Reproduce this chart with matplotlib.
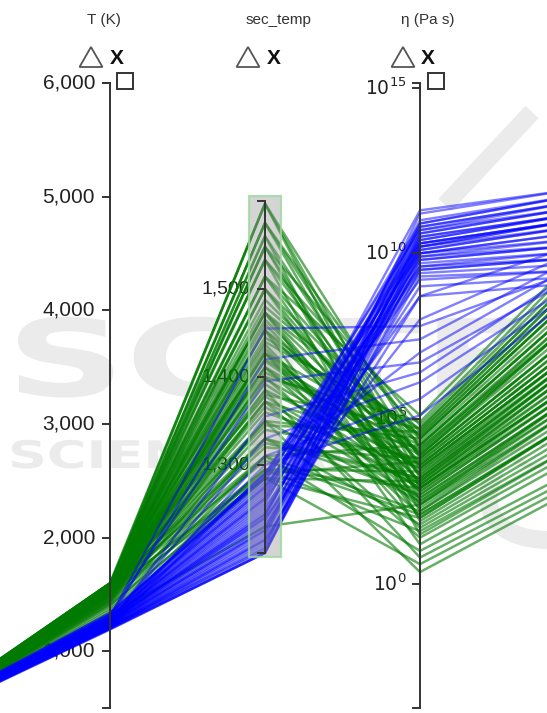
import matplotlib
matplotlib.use("Agg")
import numpy as np
import matplotlib.pyplot as plt
from matplotlib.patches import Rectangle, Polygon, PathPatch
from matplotlib.textpath import TextPath
from matplotlib.font_manager import FontProperties
from matplotlib.transforms import Affine2D

plt.rcParams['mathtext.fontset'] = 'custom'
plt.rcParams['mathtext.rm'] = 'Liberation Sans'
plt.rcParams['mathtext.it'] = 'Liberation Sans:italic'
plt.rcParams['mathtext.bf'] = 'Liberation Sans:bold'

# ---------------------------------------------------------------- data
# visible dimensions
dim_titles = ["T (K)", "sec_temp", "η (Pa s)"]
T_ticks = [1000, 2000, 3000, 4000, 5000, 6000]
sec_ticks = [1300, 1400, 1500]
eta_tick_exps = [0, 5, 10, 15]

# group 1 (green)
green_left = [0.028, 0.026, 0.027, 0.025, 0.024, 0.026, 0.027, 0.023, 0.029, 0.025,
              0.022, 0.027, 0.024, 0.021, 0.026, 0.023, 0.022, 0.028, 0.025, 0.021,
              0.029, 0.026, 0.023, 0.020, 0.027, 0.024, 0.020, 0.028, 0.026, 0.023,
              0.019, 0.019, 0.027, 0.022, 0.019, 0.025, 0.018, 0.026, 0.018, 0.024,
              0.021, 0.017, 0.023, 0.028, 0.020, 0.017, 0.025, 0.020, 0.016, 0.022,
              0.026, 0.019, 0.016, 0.021, 0.018, 0.015, 0.020, 0.017, 0.015, 0.015,
              0.026, 0.025, 0.024, 0.022, 0.021, 0.029, 0.026, 0.025, 0.023, 0.022,
              0.027, 0.025, 0.024, 0.023, 0.020, 0.028, 0.027, 0.025, 0.024, 0.022]
green_T = [1600, 1590, 1575, 1585, 1570, 1560, 1580, 1555, 1595, 1565,
           1545, 1588, 1550, 1530, 1578, 1540, 1520, 1592, 1558, 1510,
           1598, 1572, 1535, 1500, 1583, 1548, 1490, 1593, 1568, 1538,
           1480, 1460, 1587, 1525, 1470, 1562, 1450, 1577, 1440, 1553,
           1515, 1430, 1542, 1596, 1505, 1420, 1563, 1485, 1400, 1528,
           1573, 1465, 1380, 1518, 1445, 1360, 1495, 1410, 1340, 1320,
           1582, 1567, 1552, 1537, 1522, 1597, 1576, 1561, 1546, 1531,
           1589, 1571, 1556, 1541, 1512, 1594, 1579, 1564, 1549, 1534]
green_sec = [1597, 1597, 1597, 1575, 1575, 1575, 1560, 1560, 1548, 1548,
             1548, 1533, 1533, 1533, 1514, 1514, 1514, 1500, 1500, 1500,
             1473, 1473, 1473, 1473, 1453, 1453, 1453, 1440, 1427, 1427,
             1427, 1427, 1411, 1411, 1411, 1400, 1400, 1385, 1385, 1372,
             1372, 1372, 1360, 1350, 1350, 1350, 1330, 1330, 1330, 1320,
             1310, 1310, 1310, 1295, 1295, 1295, 1285, 1285, 1285, 1230,
             1488, 1465, 1445, 1432, 1418, 1405, 1392, 1380, 1366, 1340,
             1480, 1460, 1437, 1420, 1398, 1378, 1345, 1325, 1305, 1290]
green_eta_exp = [3.2, 4.1, 2.5, 3.8, 2.9, 4.4, 3.5, 1.9, 4.8, 3.0,
                 2.2, 3.6, 4.6, 1.5, 2.7, 3.9, 5.1, 4.2, 2.4, 3.3,
                 3.7, 4.5, 2.0, 2.8, 4.0, 3.1, 1.2, 4.7, 3.4, 2.6,
                 4.3, 1.7, 3.9, 2.3, 3.0, 4.9, 2.1, 3.6, 0.8, 4.1,
                 2.9, 1.4, 3.5, 4.4, 2.5, 0.36, 3.2, 1.8, 2.7, 3.8,
                 4.2, 1.0, 2.2, 3.4, 1.6, 2.9, 0.6, 2.0, 3.1, 2.4,
                 3.9, 3.3, 4.5, 2.8, 3.6, 4.2, 3.0, 4.7, 2.6, 3.8,
                 4.4, 3.1, 2.4, 4.0, 3.5, 2.9, 4.6, 3.2, 2.1, 3.7]
green_right = [0.55, 0.62, 0.50, 0.60, 0.52, 0.66, 0.57, 0.45, 0.70, 0.53,
               0.47, 0.58, 0.68, 0.42, 0.51, 0.61, 0.72, 0.64, 0.49, 0.56,
               0.59, 0.67, 0.46, 0.52, 0.63, 0.55, 0.40, 0.69, 0.57, 0.50,
               0.65, 0.43, 0.62, 0.48, 0.54, 0.71, 0.46, 0.58, 0.37, 0.63,
               0.53, 0.41, 0.57, 0.66, 0.49, 0.35, 0.55, 0.44, 0.51, 0.60,
               0.64, 0.38, 0.48, 0.56, 0.42, 0.52, 0.36, 0.46, 0.54, 0.50,
               0.62, 0.56, 0.67, 0.51, 0.58, 0.64, 0.54, 0.69, 0.50, 0.60,
               0.66, 0.55, 0.48, 0.62, 0.57, 0.52, 0.68, 0.56, 0.46, 0.59]

# group 2 (blue)
blue_left = [0.008, 0.009, 0.008, 0.010, 0.009, 0.010, 0.011, 0.010, 0.011, 0.012,
             0.011, 0.012, 0.013, 0.012, 0.013, 0.012, 0.014, 0.013, 0.014, 0.015,
             0.014, 0.015, 0.015, 0.016, 0.015, 0.016, 0.017, 0.016, 0.017, 0.018,
             0.017, 0.018, 0.019, 0.019, 0.010, 0.013, 0.015, 0.016, 0.018, 0.020,
             0.017, 0.016, 0.018, 0.014, 0.015, 0.013, 0.017, 0.012, 0.015, 0.011]
blue_T = [1190, 1195, 1200, 1198, 1205, 1210, 1208, 1215, 1220, 1218,
          1225, 1230, 1228, 1235, 1240, 1238, 1245, 1250, 1248, 1255,
          1260, 1258, 1265, 1270, 1268, 1275, 1280, 1285, 1290, 1295,
          1300, 1310, 1320, 1330, 1212, 1242, 1262, 1278, 1305, 1338,
          1300, 1280, 1320, 1250, 1270, 1230, 1290, 1220, 1260, 1210]
blue_sec = [1200, 1200, 1200, 1203, 1207, 1210, 1213, 1216, 1219, 1222,
            1225, 1228, 1231, 1234, 1237, 1240, 1243, 1246, 1249, 1252,
            1255, 1258, 1261, 1264, 1267, 1270, 1273, 1276, 1279, 1282,
            1285, 1288, 1290, 1290, 1205, 1226, 1244, 1262, 1275, 1287,
            1455, 1420, 1395, 1355, 1330, 1310, 1300, 1292, 1240, 1215]
blue_eta_exp = [10.2, 9.8, 10.6, 9.5, 10.9, 10.0, 9.3, 10.4, 11.2, 9.7,
                10.1, 10.7, 9.0, 10.3, 9.9, 11.0, 10.5, 9.6, 10.2, 8.7,
                10.8, 10.0, 9.4, 10.6, 11.3, 9.8, 10.3, 9.2, 10.9, 10.1,
                9.6, 10.4, 10.0, 10.7, 10.5, 9.9, 10.2, 10.8, 9.5, 10.3,
                7.8, 7.4, 6.7, 6.4, 6.1, 5.6, 5.1, 7.0, 8.0, 8.7]
blue_right = [0.78, 0.74, 0.80, 0.72, 0.82, 0.76, 0.70, 0.79, 0.83, 0.73,
              0.77, 0.81, 0.69, 0.78, 0.75, 0.82, 0.79, 0.73, 0.77, 0.68,
              0.81, 0.76, 0.71, 0.80, 0.83, 0.74, 0.78, 0.70, 0.82, 0.77,
              0.72, 0.79, 0.75, 0.80, 0.79, 0.74, 0.78, 0.81, 0.72, 0.78,
              0.70, 0.72, 0.69, 0.70, 0.68, 0.67, 0.66, 0.71, 0.73, 0.74]

# ---------------------------------------------------------------- layout
W, H = 547, 713
AXIS_X = [-45, 110, 265, 420, 575]          # pixel x of each dimension
TOP, BOT = 83, 708                          # full-height axis extent
SEC_TOP, SEC_BOT = 201, 553                 # brushed axis extent

def lin(lo, hi, p_lo, p_hi):
    return lambda v: p_lo + (np.asarray(v, float) - lo) / (hi - lo) * (p_hi - p_lo)

scale_left = lin(0.0, 1.0, BOT, TOP)
scale_T = lin(500, 6000, BOT, TOP)
scale_sec = lin(1200, 1600, SEC_BOT, SEC_TOP)
scale_eta = lin(-3.75, 15.15, BOT, TOP)     # log10 scale
scale_right = lin(0.0, 1.0, BOT, TOP)

INK = "#333333"
TXT = "#222222"

fig = plt.figure(figsize=(W / 100, H / 100), dpi=100)
ax = fig.add_axes([0, 0, 1, 1])
ax.set_xlim(0, W)
ax.set_ylim(H, 0)
ax.axis("off")

# ---------------------------------------------------------------- watermark
wm = "#ebebeb"
fp_wm = FontProperties(family="DejaVu Sans", weight="bold")
tp = TextPath((0, 0), "SCITEPRESS", size=107, prop=fp_wm)
ax.add_patch(PathPatch(tp, transform=Affine2D().scale(1.55, -1.0).translate(6, 396) + ax.transData,
                       fc=wm, ec="none", zorder=0))
tp2 = TextPath((0, 0), "SCIENCE AND TECHNOLOGY", size=38, prop=fp_wm)
ax.add_patch(PathPatch(tp2, transform=Affine2D().scale(1.42, -1.0).translate(8, 468) + ax.transData,
                       fc=wm, ec="none", zorder=0))
ax.plot([445, 532], [205, 112], color=wm, lw=13, solid_capstyle="butt", zorder=0)
tt = np.linspace(0, 1, 40)
ax.plot(495 - 30 * np.sin(tt * np.pi / 2) + 80 * tt ** 2, 470 + 60 * np.sin(tt * np.pi / 2) + 10 * tt,
        color=wm, lw=13, zorder=0)

# ---------------------------------------------------------------- tick labels (under the lines)
fs_tick = 15
for v in T_ticks:
    y = float(scale_T(v))
    ax.text(AXIS_X[1] - 15, y, f"{v:,}", ha="right", va="center", fontsize=fs_tick,
            family="Liberation Sans", color=TXT, zorder=1)
for v in sec_ticks:
    y = float(scale_sec(v))
    ax.text(AXIS_X[2] - 15, y, f"{v:,}", ha="right", va="center", fontsize=14,
            family="Liberation Sans", color=TXT, zorder=1)
for e in eta_tick_exps:
    y = float(scale_eta(e))
    ax.text(AXIS_X[3] - 13, y, rf"$\mathregular{{10^{{{e}}}}}$", ha="right", va="center",
            fontsize=13.5, color=TXT, zorder=1)

# ---------------------------------------------------------------- polylines
def draw_group(left, T, sec, eta, right, color, alpha, lw, z):
    ys = np.vstack([scale_left(left), scale_T(T), scale_sec(sec), scale_eta(eta), scale_right(right)])
    for k in range(ys.shape[1]):
        ax.plot(AXIS_X, ys[:, k], color=color, alpha=alpha, lw=lw, zorder=z,
                solid_joinstyle="miter")

draw_group(green_left, green_T, green_sec, green_eta_exp, green_right, "#007a00", 0.6, 1.8, 2)
draw_group(blue_left, blue_T, blue_sec, blue_eta_exp, blue_right, "#0000ff", 0.5, 1.7, 3)

# ---------------------------------------------------------------- brush on sec_temp
ax.add_patch(Rectangle((AXIS_X[2] - 16, SEC_TOP - 5), 32, SEC_BOT - SEC_TOP + 9,
                       fc="#9a9a9a", alpha=0.42, ec="none", zorder=4))
ax.add_patch(Rectangle((AXIS_X[2] - 16, SEC_TOP - 5), 32, SEC_BOT - SEC_TOP + 9,
                       fc="none", ec="#9fd89f", lw=1.6, alpha=0.8, zorder=4))

# ---------------------------------------------------------------- axis spines and ticks
def draw_axis(x, p_top, p_bot, tick_px):
    ax.plot([x - 7, x, x, x - 7], [p_top, p_top, p_bot, p_bot], color=INK, lw=1.4, zorder=5,
            solid_joinstyle="miter")
    for y in tick_px:
        ax.plot([x - 7, x], [y, y], color=INK, lw=1.4, zorder=5)

draw_axis(AXIS_X[1], TOP, BOT, scale_T(T_ticks))
draw_axis(AXIS_X[2], SEC_TOP, SEC_BOT, scale_sec(sec_ticks))
draw_axis(AXIS_X[3], TOP, BOT, scale_eta(eta_tick_exps))

# ---------------------------------------------------------------- headers
title_x = [104, 278, 428]
for tx, t in zip(title_x, dim_titles):
    ax.text(tx, 20, t, ha="center", va="center", fontsize=11, family="Liberation Sans",
            color="#333333", zorder=6)

tri_x = [91, 248, 403]
x_x = [117, 274, 428]
for cx, xx in zip(tri_x, x_x):
    ax.add_patch(Polygon([(cx - 11.5, 67), (cx + 11.5, 67), (cx, 47)], closed=True,
                         fc="none", ec="#555555", lw=1.3, zorder=6))
    ax.text(xx, 59, "X", ha="center", va="center", fontsize=15, weight="bold",
            family="Liberation Sans", color="#111111", zorder=6)

for sx in [125, 436]:
    ax.add_patch(Rectangle((sx - 8, 73), 16, 16, fc="none", ec=INK, lw=1.4, zorder=6))

fig.savefig("out.png", dpi=100)
